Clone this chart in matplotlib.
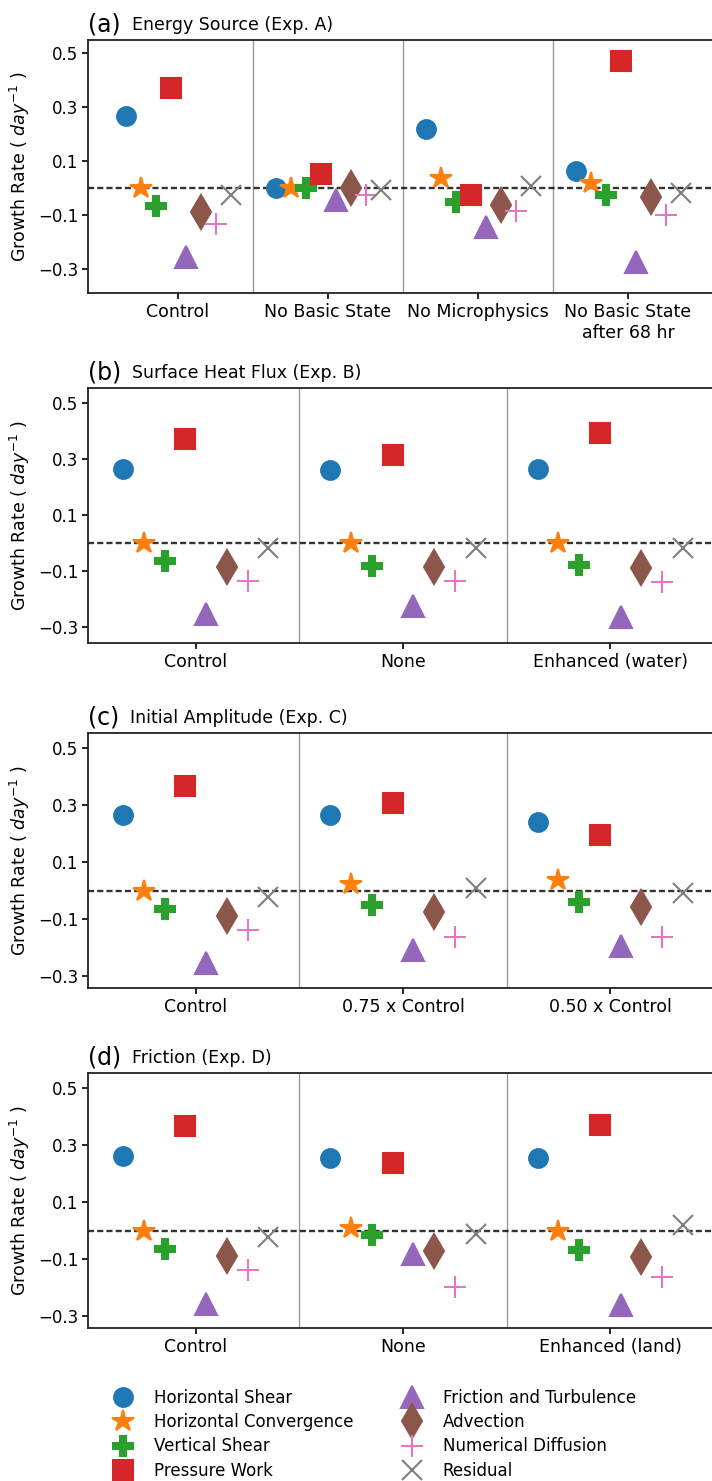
import numpy as np
from matplotlib import pyplot as plt


components = ['Horizontal Shear', 'Horizontal Convergence', 'Vertical Shear', 'Pressure Work',
              'Friction and Turbulence', 'Advection', 'Numerical Diffusion', 'Residual']

# one row per component, one column per experiment
labels_a = ['Control', 'No Basic State', 'No Microphysics', 'No Basic State\nafter 68 hr']
rates_a = np.array([
    [0.265, 0.000, 0.218, 0.063],
    [0.000, 0.000, 0.037, 0.019],
    [-0.065, 0.000, -0.052, -0.026],
    [0.370, 0.052, -0.026, 0.470],
    [-0.255, -0.044, -0.144, -0.274],
    [-0.090, 0.000, -0.063, -0.033],
    [-0.135, -0.026, -0.087, -0.100],
    [-0.025, -0.007, 0.008, -0.019],
])

labels_b = ['Control', 'None', 'Enhanced (water)']
rates_b = np.array([
    [0.264, 0.260, 0.264],
    [0.000, 0.000, 0.000],
    [-0.064, -0.082, -0.077],
    [0.371, 0.315, 0.393],
    [-0.254, -0.225, -0.264],
    [-0.086, -0.086, -0.090],
    [-0.136, -0.136, -0.140],
    [-0.018, -0.018, -0.018],
])

labels_c = ['Control', '0.75 x Control', '0.50 x Control']
rates_c = np.array([
    [0.265, 0.265, 0.240],
    [0.000, 0.023, 0.037],
    [-0.065, -0.051, -0.040],
    [0.367, 0.307, 0.195],
    [-0.254, -0.209, -0.195],
    [-0.090, -0.075, -0.058],
    [-0.139, -0.164, -0.163],
    [-0.022, 0.009, -0.009],
])

labels_d = ['Control', 'None', 'Enhanced (land)']
rates_d = np.array([
    [0.263, 0.255, 0.255],
    [0.000, 0.008, 0.000],
    [-0.063, -0.017, -0.067],
    [0.366, 0.238, 0.369],
    [-0.257, -0.084, -0.261],
    [-0.091, -0.071, -0.093],
    [-0.137, -0.197, -0.162],
    [-0.024, -0.013, 0.018],
])

panels = [
    ('(a)', 'Energy Source (Exp. A)', labels_a, rates_a),
    ('(b)', 'Surface Heat Flux (Exp. B)', labels_b, rates_b),
    ('(c)', 'Initial Amplitude (Exp. C)', labels_c, rates_c),
    ('(d)', 'Friction (Exp. D)', labels_d, rates_d),
]

markers = ['o', '*', 'P', 's', '^', 'd', '+', 'x']
sizes = [13.5, 16, 15, 14.5, 16.5, 17.5, 16.5, 14.5]
colors = ['tab:blue', 'tab:orange', 'tab:green', 'tab:red',
          'tab:purple', 'tab:brown', 'tab:pink', 'tab:gray']

# figure-pixel boxes (top, bottom) of each panel
boxes = [(40, 293), (388, 643), (733, 988), (1073, 1328)]
W, H = 712, 1481


def draw_panel(ax, tag, title, labels, rates):
    n = len(labels)
    x = np.arange(n)
    for k in range(len(components)):
        ax.plot(x - 0.35 + 0.1 * k, rates[k], linestyle='none', marker=markers[k],
                markersize=sizes[k], color=colors[k], markeredgewidth=1.5,
                label=components[k], zorder=3)

    ax.axhline(0, color='k', linestyle=(0, (2.6, 1.3)), linewidth=1.7, alpha=0.8, zorder=2)
    for s in range(n - 1):
        ax.axvline(s + 0.5, color='#999999', linewidth=1.0, zorder=1)

    pad = 0.6 if n == 4 else 0.52
    ax.set_xlim(-pad, n - 1 + pad)
    ax.set_xticks(x)
    ax.set_xticklabels(labels, fontsize=12.5)
    ax.set_yticks([0.5, 0.3, 0.1, -0.1, -0.3])
    ax.set_yticklabels(['0.5', '0.3', '0.1', '\u22120.1', '\u22120.3'], fontsize=12)
    ax.tick_params(direction='out', length=4, width=1.2, pad=3)
    ax.set_ylabel('Growth Rate ( $day^{-1}$ )', fontsize=12.5, labelpad=4)
    for sp in ax.spines.values():
        sp.set_linewidth(1.3)
        sp.set_color('#222222')

    t1 = ax.text(0.0, 1.012, tag, transform=ax.transAxes, fontsize=17,
                 ha='left', va='bottom')
    ax.annotate('  ' + title, xy=(1, 0.12), xycoords=t1, fontsize=12.5,
                ha='left', va='bottom')


def main():
    fig = plt.figure(figsize=(W / 100, H / 100), dpi=100)
    ylims = [(-0.389, 0.548), (-0.357, 0.553), (-0.342, 0.553), (-0.342, 0.553)]

    axes = []
    for (tag, title, labels, rates), (top, bottom), ylim in zip(panels, boxes, ylims):
        ax = fig.add_axes([88 / W, 1 - bottom / H, 630 / W, (bottom - top) / H])
        draw_panel(ax, tag, title, labels, rates)
        ax.set_ylim(*ylim)
        axes.append(ax)

    handles, names = axes[0].get_legend_handles_labels()
    fig.legend(handles, names, ncol=2, frameon=False, fontsize=12,
               loc='upper left', bbox_to_anchor=(100 / W, 1 - 1382 / H),
               handlelength=2.0, handletextpad=0.85, columnspacing=2.5,
               labelspacing=0.38, borderaxespad=0)

    fig.savefig('out.png', dpi=100)


if __name__ == '__main__':
    main()
